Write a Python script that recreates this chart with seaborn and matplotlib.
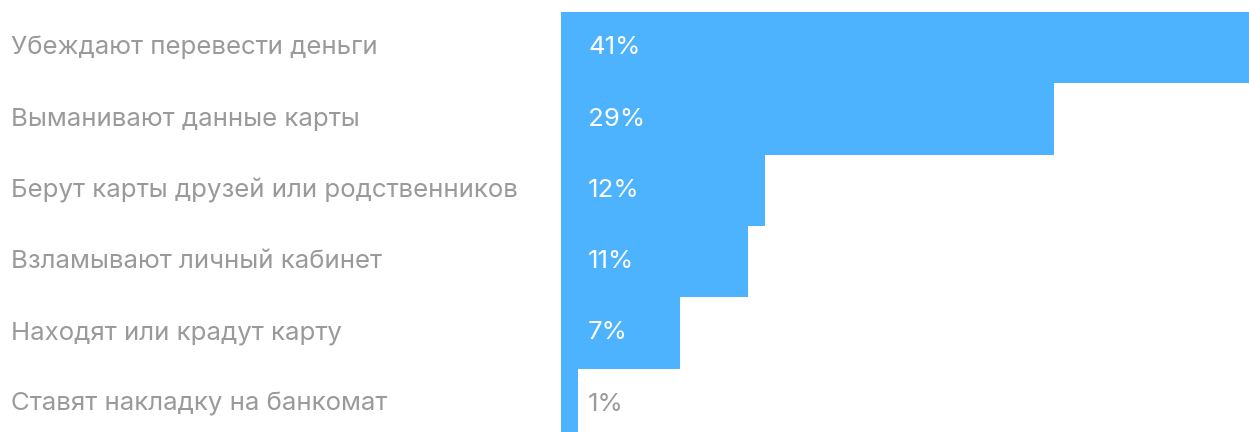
import matplotlib
matplotlib.use("Agg")
import matplotlib.pyplot as plt
import matplotlib.transforms as mtransforms
import pandas as pd
import seaborn as sns

# data
categories = [
    "Убеждают перевести деньги",
    "Выманивают данные карты",
    "Берут карты друзей или родственников",
    "Взламывают личный кабинет",
    "Находят или крадут карту",
    "Ставят накладку на банкомат",
]
shares = [41, 29, 12, 11, 7, 1]

df = pd.DataFrame({"category": categories, "share": shares})

bar_color = "#4DB3FF"
grey = "#9A9A9A"

sns.set_style("white")
plt.rcParams["font.family"] = ["Inter", "DejaVu Sans"]

fig = plt.figure(figsize=(12.49, 4.32), dpi=100, facecolor="white")
# axes spans from the bar start to the right edge; last row is cut at the bottom
ax = fig.add_axes([561 / 1249, -0.0185, 1 - 561 / 1249, 0.9907])

sns.barplot(data=df, x="share", y="category", orient="h", color=bar_color,
            width=1.0, saturation=1, ax=ax, edgecolor="none")

ax.set_xlim(0, 40.45)
ax.set_ylim(len(categories) - 0.5, -0.5)
ax.set_xlabel("")
ax.set_ylabel("")
ax.set_xticks([])
ax.set_yticks([])
sns.despine(ax=ax, left=True, bottom=True)

# category labels on the left, in figure x and data y
trans = mtransforms.blended_transform_factory(fig.transFigure, ax.transData)
for i, cat in enumerate(categories):
    ax.text(11 / 1249, i, cat, transform=trans, ha="left", va="center",
            fontsize=18.6, color=grey, clip_on=False)

# value labels inside the bars
for i, v in enumerate(shares):
    col = "white" if v > 3 else grey
    ax.text(588 / 1249, i, f"{v}%", transform=trans, ha="left", va="center",
            fontsize=18.6, color=col, clip_on=False)

fig.savefig("out.png", dpi=100, facecolor="white")
